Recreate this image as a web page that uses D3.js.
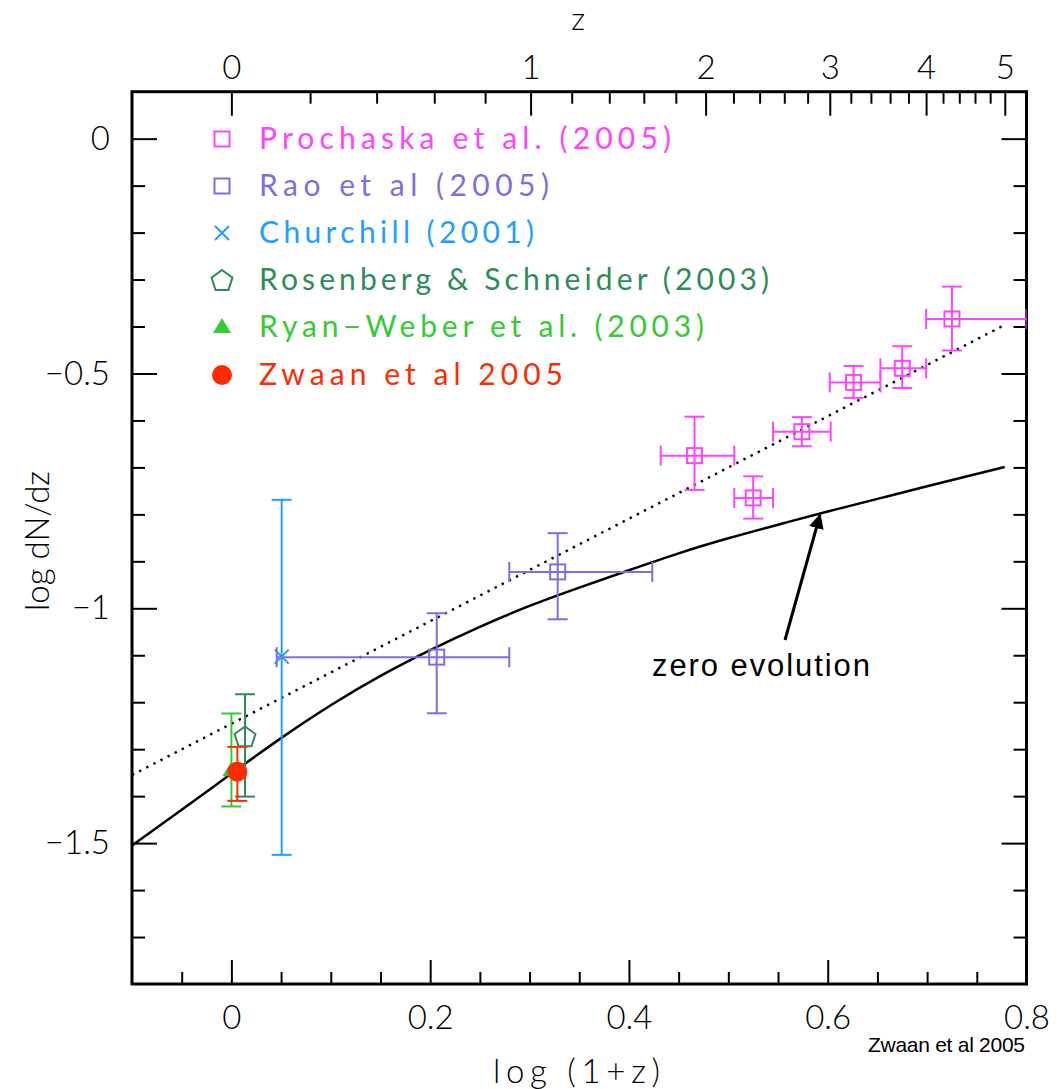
<!DOCTYPE html>
<html><head><meta charset="utf-8">
<script src="https://cdn.jsdelivr.net/npm/d3@7"></script>
<style>
html,body{margin:0;padding:0;background:#fff;}
svg text{font-family:Lato,"DejaVu Sans",sans-serif;}
</style></head>
<body><svg id="c" width="1057" height="1089"></svg>
<script>
// ---------- data ----------
const prochaskaX   = [0.466, 0.525, 0.574, 0.626, 0.675, 0.725];
const prochaskaY   = [-0.675, -0.765, -0.624, -0.519, -0.489, -0.384];
const prochaskaXLo = [0.432, 0.506, 0.545, 0.602, 0.653, 0.699];
const prochaskaXHi = [0.506, 0.545, 0.603, 0.653, 0.699, 0.80];
const prochaskaYLo = [-0.748, -0.809, -0.655, -0.552, -0.531, -0.451];
const prochaskaYHi = [-0.592, -0.719, -0.593, -0.484, -0.442, -0.315];

const raoX   = [0.2066, 0.3283];
const raoY   = [-1.104, -0.9225];
const raoXLo = [0.0456, 0.2796];
const raoXHi = [0.2796, 0.4235];
const raoYLo = [-1.2235, -1.0234];
const raoYHi = [-1.0105, -0.840];

const churchillX = [0.0506], churchillY = [-1.103], churchillYLo = [-1.525], churchillYHi = [-0.769];
const rosenbergX = [0.0137], rosenbergY = [-1.275], rosenbergYLo = [-1.401], rosenbergYHi = [-1.183];
const ryanX = [0.0], ryanY = [-1.345], ryanYLo = [-1.422], ryanYHi = [-1.224];
const zwaanX = [0.006], zwaanY = [-1.348], zwaanYLo = [-1.41], zwaanYHi = [-1.295];

// zero evolution curve
const zeroEvoX = [-0.1, -0.05, 0.0, 0.05, 0.1, 0.15, 0.2, 0.25, 0.3, 0.35, 0.4, 0.45, 0.5, 0.55, 0.6, 0.65, 0.7, 0.778];
const zeroEvoY = [-1.505, -1.429, -1.352, -1.2765, -1.2065, -1.144, -1.089, -1.0395, -0.995, -0.956, -0.919, -0.883, -0.851, -0.822, -0.794, -0.767, -0.740, -0.699];
// dotted fit line
const fitX = [-0.1, 0.775];
const fitY = [-1.355, -0.40];

// axes ticks
const xMajor = [0, 0.2, 0.4, 0.6, 0.8];
const xMajorLabels = ["0", "0.2", "0.4", "0.6", "0.8"];
const xMinor = [-0.05, 0.05, 0.1, 0.15, 0.25, 0.3, 0.35, 0.45, 0.5, 0.55, 0.65, 0.7, 0.75];
const yMajor = [0, -0.5, -1, -1.5];
const yMajorLabels = ["0", "−0.5", "−1", "−1.5"];
const yMinor = [-0.1, -0.2, -0.3, -0.4, -0.6, -0.7, -0.8, -0.9, -1.1, -1.2, -1.3, -1.4, -1.6, -1.7];
const zMajor = [0, 1, 2, 3, 4, 5];
const zMajorLabels = ["0", "1", "2", "3", "4", "5"];
const zMinor = [0.2,0.4,0.6,0.8,1.2,1.4,1.6,1.8,2.2,2.4,2.6,2.8,3.2,3.4,3.6,3.8,4.2,4.4,4.6,4.8];

const legendLabels = ["Prochaska et al. (2005)", "Rao et al (2005)", "Churchill (2001)",
  "Rosenberg & Schneider (2003)", "Ryan−Weber et al. (2003)", "Zwaan et al 2005"];
const legendColors = ["#ff44ff", "#7d70dc", "#1ea0ff", "#2e8b5a", "#33cc33", "#ff2a00"];
const legendWidths = [412, 290, 275, 510, 445, 304];

// ---------- layout ----------
const L = 132, R = 1026.5, T = 91.7, B = 984;
const svg = d3.select("#c");
const x = d3.scaleLinear().domain([-0.1, 0.8]).range([L, R]);
const y = d3.scaleLinear().domain([-1.8, 0.1]).range([B, T]);

svg.append("defs").append("clipPath").attr("id","clip")
  .append("rect").attr("x",L).attr("y",T).attr("width",R-L).attr("height",B-T);

function styleAxis(g){
  g.select(".domain").remove();
  g.selectAll(".tick line").attr("stroke","#000").attr("stroke-width",2);
  g.selectAll(".tick text").attr("fill","#000").style("font-size","33px").style("font-weight","300");
}
// bottom
svg.append("g").attr("transform",`translate(0,${B})`)
  .call(d3.axisBottom(x).tickValues(xMajor).tickFormat((d,i)=>xMajorLabels[i]).tickSizeInner(-24).tickSizeOuter(0).tickPadding(22))
  .call(styleAxis);
svg.append("g").attr("transform",`translate(0,${B})`)
  .call(d3.axisBottom(x).tickValues(xMinor).tickFormat("").tickSizeInner(-12).tickSizeOuter(0))
  .call(styleAxis);
// left
svg.append("g").attr("transform",`translate(${L},0)`)
  .call(d3.axisLeft(y).tickValues(yMajor).tickFormat((d,i)=>yMajorLabels[i]).tickSizeInner(-25).tickSizeOuter(0).tickPadding(22))
  .call(styleAxis);
svg.append("g").attr("transform",`translate(${L},0)`)
  .call(d3.axisLeft(y).tickValues(yMinor).tickFormat("").tickSizeInner(-13).tickSizeOuter(0))
  .call(styleAxis);
// right
svg.append("g").attr("transform",`translate(${R},0)`)
  .call(d3.axisRight(y).tickValues(yMajor).tickFormat("").tickSizeInner(-25).tickSizeOuter(0))
  .call(styleAxis);
svg.append("g").attr("transform",`translate(${R},0)`)
  .call(d3.axisRight(y).tickValues(yMinor).tickFormat("").tickSizeInner(-13).tickSizeOuter(0))
  .call(styleAxis);
// top (z): positions through the log(1+z) scale
const zpos = v => x(Math.log10(1 + v));
const topMajor = d3.axisTop(d3.scaleIdentity()).tickValues(zMajor.map(zpos)).tickFormat((d,i)=>zMajorLabels[i]).tickSizeInner(-24).tickSizeOuter(0).tickPadding(13);
svg.append("g").attr("transform",`translate(0,${T})`).call(topMajor).call(styleAxis);
const topMinor = d3.axisTop(d3.scaleIdentity()).tickValues(zMinor.map(zpos)).tickFormat("").tickSizeInner(-12).tickSizeOuter(0);
svg.append("g").attr("transform",`translate(0,${T})`).call(topMinor).call(styleAxis);

// frame
svg.append("rect").attr("x",L).attr("y",T).attr("width",R-L).attr("height",B-T)
  .attr("fill","none").attr("stroke","#000").attr("stroke-width",3);

// axis titles
svg.append("text").attr("x",578).attr("y",30).attr("text-anchor","middle")
  .style("font-size","31px").style("font-weight","300").text("z");
svg.append("text").attr("x",493).attr("y",1083).attr("textLength",167).attr("lengthAdjust","spacing")
  .style("font-size","33px").style("font-weight","300").text("log (1+z)");
svg.append("text").attr("transform","translate(49,541) rotate(-90)").attr("text-anchor","middle")
  .style("font-size","33px").style("font-weight","300").text("log dN/dz");

// lines
const plot = svg.append("g").attr("clip-path","url(#clip)");
plot.append("path").datum(fitX.map((v,i)=>[v,fitY[i]]))
  .attr("d", d3.line().x(d=>x(d[0])).y(d=>y(d[1]))).attr("fill","none").attr("stroke","#000").attr("stroke-width",2.4)
  .attr("stroke-dasharray","2.4,5.6");
plot.append("path").datum(zeroEvoX.map((v,i)=>[v,zeroEvoY[i]]))
  .attr("d", d3.line().x(d=>x(d[0])).y(d=>y(d[1])).curve(d3.curveNatural)).attr("fill","none").attr("stroke","#000").attr("stroke-width",2.5);

// error bars
const CAP = 10;
function errY(g, xs, ys, lo, hi, color){
  xs.forEach((xv,i)=>{
    const px = x(xv);
    g.append("line").attr("x1",px).attr("x2",px).attr("y1",y(lo[i])).attr("y2",y(hi[i])).attr("stroke",color).attr("stroke-width",2);
    [lo[i],hi[i]].forEach(v=>g.append("line").attr("x1",px-CAP).attr("x2",px+CAP).attr("y1",y(v)).attr("y2",y(v)).attr("stroke",color).attr("stroke-width",2));
  });
}
function errX(g, xs, ys, lo, hi, color){
  ys.forEach((yv,i)=>{
    const py = y(yv);
    g.append("line").attr("x1",x(lo[i])).attr("x2",x(hi[i])).attr("y1",py).attr("y2",py).attr("stroke",color).attr("stroke-width",2);
    [lo[i],hi[i]].forEach(v=>g.append("line").attr("x1",x(v)).attr("x2",x(v)).attr("y1",py-CAP).attr("y2",py+CAP).attr("stroke",color).attr("stroke-width",2));
  });
}
function square(g, px, py, color, s){
  g.append("rect").attr("x",px-s/2).attr("y",py-s/2).attr("width",s).attr("height",s)
   .attr("fill","none").attr("stroke",color).attr("stroke-width",2);
}
function cross(g, px, py, color, s){
  g.append("path").attr("d",`M${px-s/2},${py-s/2}L${px+s/2},${py+s/2}M${px-s/2},${py+s/2}L${px+s/2},${py-s/2}`)
   .attr("stroke",color).attr("stroke-width",2).attr("fill","none");
}
function pentagon(g, px, py, color, r){
  const pts = d3.range(5).map(k=>{const a=-Math.PI/2+k*2*Math.PI/5; return [px+r*Math.cos(a), py+r*Math.sin(a)];});
  g.append("path").attr("d","M"+pts.join("L")+"Z").attr("fill","none").attr("stroke",color).attr("stroke-width",2);
}
function triangle(g, px, py, color, w, h){
  g.append("path").attr("d",`M${px},${py-h*0.6}L${px+w/2},${py+h*0.4}L${px-w/2},${py+h*0.4}Z`).attr("fill",color);
}
function dot(g, px, py, color, r){
  g.append("circle").attr("cx",px).attr("cy",py).attr("r",r).attr("fill",color);
}

const dg = svg.append("g").attr("clip-path","url(#clip)");
errY(dg, ryanX, ryanY, ryanYLo, ryanYHi, legendColors[4]);
ryanX.forEach((v,i)=>triangle(dg, x(v), y(ryanY[i]), legendColors[4], 18, 15));
errY(dg, rosenbergX, rosenbergY, rosenbergYLo, rosenbergYHi, legendColors[3]);
rosenbergX.forEach((v,i)=>pentagon(dg, x(v), y(rosenbergY[i]), legendColors[3], 11));
errY(dg, zwaanX, zwaanY, zwaanYLo, zwaanYHi, legendColors[5]);
zwaanX.forEach((v,i)=>dot(dg, x(v), y(zwaanY[i]), legendColors[5], 10));
errY(dg, churchillX, churchillY, churchillYLo, churchillYHi, legendColors[2]);
churchillX.forEach((v,i)=>cross(dg, x(v), y(churchillY[i]), legendColors[2], 14));
errX(dg, raoX, raoY, raoXLo, raoXHi, legendColors[1]);
errY(dg, raoX, raoY, raoYLo, raoYHi, legendColors[1]);
raoX.forEach((v,i)=>square(dg, x(v), y(raoY[i]), legendColors[1], 15));
errX(dg, prochaskaX, prochaskaY, prochaskaXLo, prochaskaXHi, legendColors[0]);
errY(dg, prochaskaX, prochaskaY, prochaskaYLo, prochaskaYHi, legendColors[0]);
prochaskaX.forEach((v,i)=>square(dg, x(v), y(prochaskaY[i]), legendColors[0], 15));

// legend
const legY = [139, 186, 233, 280, 327, 375];
const lg = svg.append("g");
legendLabels.forEach((lab,i)=>{
  const cy = legY[i], cx = 222, c = legendColors[i];
  if(i===0||i===1) square(lg, cx, cy, c, 15);
  if(i===2) cross(lg, cx, cy, c, 14);
  if(i===3) pentagon(lg, cx, cy+1, c, 11);
  if(i===4) triangle(lg, cx, cy, c, 18, 15);
  if(i===5) dot(lg, cx, cy, c, 10);
  lg.append("text").attr("x",259).attr("y",cy+10).attr("fill",c)
    .attr("textLength",legendWidths[i]).attr("lengthAdjust","spacing")
    .style("font-size","30px").style("font-weight","400").text(lab);
});

// annotation
svg.append("defs").append("marker").attr("id","ah").attr("viewBox","0 0 10 10")
  .attr("refX",9).attr("refY",5).attr("markerWidth",5).attr("markerHeight",5).attr("orient","auto")
  .append("path").attr("d","M0,0L10,5L0,10Z").attr("fill","#000");
svg.append("line").attr("x1",785).attr("y1",640).attr("x2",820).attr("y2",515)
  .attr("stroke","#000").attr("stroke-width",3).attr("marker-end","url(#ah)");
svg.append("text").attr("x",652).attr("y",676).attr("textLength",218).attr("lengthAdjust","spacing")
  .style("font-family","'Liberation Sans',Arial,sans-serif").style("font-size","31px").text("zero evolution");
svg.append("text").attr("x",868).attr("y",1052).attr("textLength",157).attr("lengthAdjust","spacing")
  .style("font-family","'Liberation Sans',Arial,sans-serif").style("font-size","21px").text("Zwaan et al 2005");
</script></body></html>
